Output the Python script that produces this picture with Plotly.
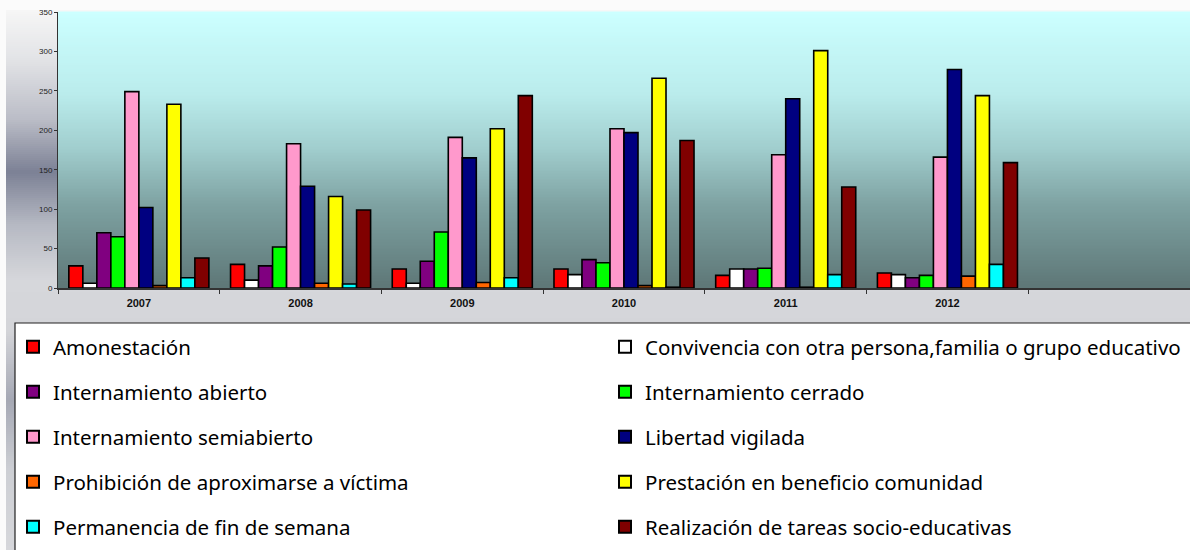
import plotly.graph_objects as go

# ---------------- data ----------------
years = ["2007", "2008", "2009", "2010", "2011", "2012"]
series_names = [
    "Amonestación",
    "Convivencia con otra persona,familia o grupo educativo",
    "Internamiento abierto",
    "Internamiento cerrado",
    "Internamiento semiabierto",
    "Libertad vigilada",
    "Prohibición de aproximarse a víctima",
    "Prestación en beneficio comunidad",
    "Permanencia de fin de semana",
    "Realización de tareas socio-educativas",
]
amonestacion = [28, 30, 24, 24, 16, 19]
convivencia = [6, 10, 6, 17, 24, 17]
int_abierto = [70, 28, 34, 36, 24, 13]
int_cerrado = [65, 52, 71, 32, 25, 16]
int_semiabierto = [249, 183, 191, 202, 169, 166]
libertad_vigilada = [102, 129, 165, 197, 240, 277]
prohibicion = [3, 6, 7, 3, 1, 15]
prestacion = [233, 116, 202, 266, 301, 244]
permanencia = [13, 5, 13, 1, 17, 30]
realizacion = [38, 99, 244, 187, 128, 159]
y_ticks = [0, 50, 100, 150, 200, 250, 300, 350]

values = [amonestacion, convivencia, int_abierto, int_cerrado, int_semiabierto,
          libertad_vigilada, prohibicion, prestacion, permanencia, realizacion]
colors = ["#ff0000", "#ffffff", "#800080", "#00ff00", "#ff99cc",
          "#000080", "#ff6600", "#ffff00", "#00ffff", "#800000"]

# ---------------- geometry ----------------
W, H = 1190, 550
ML, MR, MT, MB = 58, 0, 12, 262
PW = W - ML - MR
PH = H - MT - MB


def px_x(px):
    return (px - ML) / PW


def px_y(py):
    return (H - MB - py) / PH


def interp(stops, t):
    for (t0, c0), (t1, c1) in zip(stops[:-1], stops[1:]):
        if t0 <= t <= t1:
            f = 0 if t1 == t0 else (t - t0) / (t1 - t0)
            return "rgb(%d,%d,%d)" % tuple(round(a + (b - a) * f) for a, b in zip(c0, c1))
    c = stops[-1][1]
    return "rgb(%d,%d,%d)" % c


fig = go.Figure()
for i, (name, vals, col) in enumerate(zip(series_names, values, colors)):
    fig.add_trace(go.Bar(
        x=years, y=vals, name=name,
        marker=dict(color=col, line=dict(color="#000000", width=1.6)),
        legend="legend" if i % 2 == 0 else "legend2",
        legendgroup="g%d" % i,
    ))

shapes = []
# outer chart background gradient (by pixel y)
outer_stops = [(10, (246, 246, 246)), (60, (226, 227, 230)), (120, (186, 188, 198)),
               (172, (124, 129, 149)), (225, (182, 185, 195)), (280, (214, 215, 219)),
               (330, (212, 213, 217)), (400, (165, 168, 180)), (470, (205, 207, 212)),
               (550, (214, 215, 219))]
step = 2
for py in range(10, H, step):
    shapes.append(dict(type="rect", xref="paper", yref="paper",
                       x0=px_x(6), x1=px_x(W + 2), y0=px_y(py + step), y1=px_y(py),
                       fillcolor=interp(outer_stops, py + step / 2), line=dict(width=0),
                       layer="below"))
# legend box
shapes.append(dict(type="rect", xref="paper", yref="paper",
                   x0=px_x(15), x1=px_x(W + 5), y0=px_y(H + 5), y1=px_y(323),
                   fillcolor="#ffffff", line=dict(color="#222222", width=1.2), layer="below"))
# plot-area gradient
plot_stops = [(0.0, (204, 255, 255)), (0.3, (186, 236, 236)), (0.5, (160, 205, 205)),
              (0.7, (126, 162, 162)), (1.0, (94, 119, 119))]
n = 92
for k in range(n):
    t0 = k / n
    t1 = (k + 1) / n
    shapes.append(dict(type="rect", xref="x domain", yref="y domain",
                       x0=0, x1=1, y0=1 - t1, y1=1 - t0 + 0.002,
                       fillcolor=interp(plot_stops, (t0 + t1) / 2), line=dict(width=0),
                       layer="below"))

legend_font = dict(family="Noto Sans", size=20.5, color="#000000")
fig.update_layout(
    width=W, height=H,
    margin=dict(l=ML, r=MR, t=MT, b=MB, pad=0, autoexpand=False),
    paper_bgcolor="#fbfbfb",
    plot_bgcolor="rgba(0,0,0,0)",
    barmode="group", bargap=0.134, bargroupgap=0,
    shapes=shapes,
    showlegend=True,
    legend=dict(xref="container", yref="container",
                x=13 / W, y=1 - 327 / H, xanchor="left", yanchor="top",
                orientation="v", tracegroupgap=15.3, font=legend_font,
                bgcolor="rgba(0,0,0,0)", itemsizing="constant"),
    legend2=dict(xref="container", yref="container",
                 x=605 / W, y=1 - 327 / H, xanchor="left", yanchor="top",
                 orientation="v", tracegroupgap=15.3, font=legend_font,
                 bgcolor="rgba(0,0,0,0)", itemsizing="constant"),
    xaxis=dict(type="category", categoryorder="array",
               categoryarray=years + [" "], range=[-0.5, 6.5],
               tickson="boundaries", ticks="outside", ticklen=4, tickcolor="#333333",
               ticklabelstandoff=4,
               showline=True, linecolor="#333333", linewidth=1.5, showgrid=False,
               tickfont=dict(family="Arial, Liberation Sans", size=11, color="#111111",
                             weight="bold")),
    yaxis=dict(range=[0, 350], tickvals=y_ticks, ticks="outside", ticklen=3,
               tickcolor="#333333", showline=True, linecolor="#333333", linewidth=1,
               showgrid=False, zeroline=False,
               tickfont=dict(family="Arial, Liberation Sans", size=8, color="#222222")),
)

fig.write_html("out.html")
